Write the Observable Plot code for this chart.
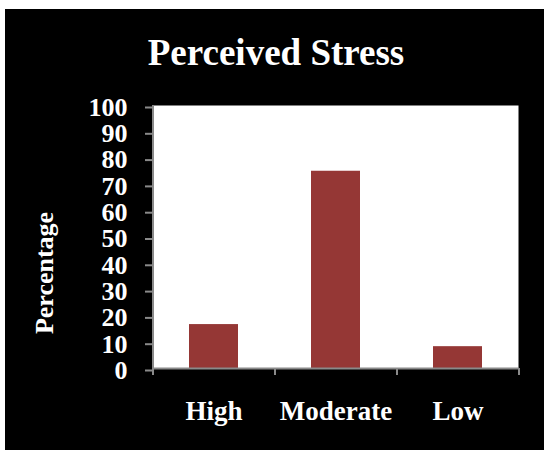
<!DOCTYPE html>
<html>
<head>
<meta charset="utf-8">
<script src="https://cdn.jsdelivr.net/npm/d3@7"></script>
<script src="https://cdn.jsdelivr.net/npm/@observablehq/plot@0.6"></script>
<style>
  html, body { margin: 0; padding: 0; background: #ffffff; }
  #card {
    position: absolute; left: 5px; top: 9px; width: 539px; height: 441px;
    background: #000000; overflow: hidden;
  }
  #title {
    box-sizing: border-box; height: 76px; padding-top: 25px; padding-left: 3px;
    font-family: "Liberation Serif", "Times New Roman", serif; font-weight: bold;
    font-size: 37px; line-height: 37px; color: #ffffff; text-align: center;
  }
</style>
</head>
<body>
<div id="card">
  <div id="title">Perceived Stress</div>
  <div id="chart"></div>
</div>
<script>
const categories = ["High", "Moderate", "Low"];
const values = [16.7, 75.0, 8.3];
const yTicks = [0, 10, 20, 30, 40, 50, 60, 70, 80, 90, 100];
const yLabel = ["Percentage"];

const data = categories.map((c, i) => ({cat: c, value: values[i]}));

const width = 539, height = 365;
const marginLeft = 147, marginRight = 26, marginTop = 20, marginBottom = 82;
const step = (width - marginLeft - marginRight) / categories.length;
const gray = "#8a8a8a";

const chart = Plot.plot({
  width, height, marginLeft, marginRight, marginTop, marginBottom,
  style: {background: "#000000", color: "#ffffff", fontFamily: "'Liberation Serif', 'Times New Roman', serif", fontWeight: "bold"},
  x: {domain: categories, paddingInner: 0.6, paddingOuter: 0.3},
  y: {domain: [0, 100]},
  marks: [
    Plot.frame({fill: "#ffffff", stroke: "none"}),
    Plot.barY(data, {x: "cat", y: "value", fill: "#953735"}),
    Plot.ruleY([0], {stroke: gray, strokeWidth: 2}),
    Plot.ruleX([categories[0]], {dx: -step / 2, stroke: gray, strokeWidth: 2}),
    Plot.axisY({ticks: yTicks, tickSize: 7, tickPadding: 18, fontSize: 26, stroke: gray, fill: "#ffffff", strokeWidth: 2, dy: 2, label: null}),
    Plot.axisX({ticks: categories, tickSize: 7, dx: -step / 2, stroke: gray, strokeWidth: 2, tickFormat: () => "", label: null}),
    Plot.axisX({ticks: [categories[categories.length - 1]], tickSize: 7, dx: step / 2, stroke: gray, strokeWidth: 2, tickFormat: () => "", label: null}),
    Plot.axisX({ticks: categories, tickSize: 0, tickPadding: 32, fontSize: 27, fill: "#ffffff", label: null}),
    Plot.text(yLabel, {text: d => d, frameAnchor: "left", textAnchor: "middle", lineAnchor: "middle", dx: -108, dy: 36, rotate: -90, fontSize: 26, fill: "#ffffff"})
  ]
});
document.getElementById("chart").appendChild(chart);
</script>
</body>
</html>
